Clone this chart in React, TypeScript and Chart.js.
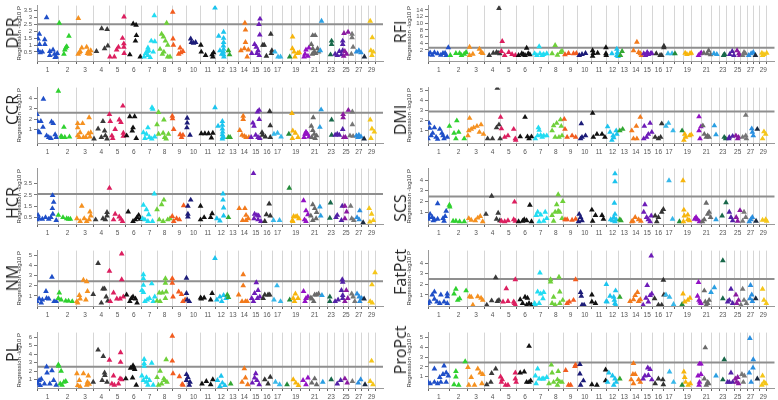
import React, { useEffect, useRef } from "react";
import { Chart, registerables } from "chart.js";
Chart.register(...registerables);

const CHR_LEN = [158,137,121,120,121,119,112,113,105,104,107,91,84,84,85,81,75,66,64,72,71,61,52,62,43,51,45,46,51];
const CHR_COLORS = ["#1f4fc8","#2fd12f","#f59120","#3a3a3a","#dc1f5f","#111111","#22dcf2","#6fd03a","#f25c1f","#1c1c78","#111111","#1cc4ee","#33a833","#f27a1c","#6d1cb8","#333333","#38b8ea","#238a3a","#f7b50c","#9312c4","#6a6a6a","#2a9fe2","#18684a","#5221a6","#8a1aa0","#777777","#2a8fe0","#1b2a40","#f5c61a"];
const X_LABELS = ["1","2","3","4","5","6","7","8","9","10","11","12","13","14","15","16","17","","19","","21","","23","","25","","27","","29"];
const X_MAX = 2560;

// [chromosome, relative position in chromosome, -log10 P]
const DPR = [[1,.45,3.0],[1,.11,1.8],[1,.05,1.45],[1,.36,1.4],[1,.12,1.05],[1,.37,1.05],[1,.05,.6],[1,.25,.5],[1,.15,.45],[1,.6,.55],[1,.75,.65],[1,.82,.35],[1,.6,.25],[1,.9,.15],[1,.95,.4],[1,.85,.1],
[2,.05,2.6],[2,.57,1.65],[2,.45,.9],[2,.4,.8],[2,.35,.65],[2,.3,.35],
[3,.09,2.95],[3,.3,.8],[3,.15,.45],[3,.08,.35],[3,.2,.55],[3,.6,.85],[3,.7,.55],[3,.65,.4],[3,.8,.4],[3,.85,.6],[3,.75,.35],
[4,.2,.55],[4,.52,2.2],[4,.86,2.15],[4,.9,.95],[4,.7,.75],
[5,.89,3.05],[5,.03,.15],[5,.3,.15],[5,.44,.65],[5,.8,1.5],[5,.88,1.1],[5,.88,.85],[5,.9,.4],[5,.55,.85],
[6,.46,2.55],[6,.64,2.45],[6,.66,1.7],[6,.6,1.3],[6,.25,.3],[6,.9,.15],
[7,.82,3.15],[7,.62,1.3],[7,.4,.8],[7,.35,.55],[7,.25,.4],[7,.4,.25],[7,.55,.1],[7,.15,.15],[7,.75,.5],[7,.85,1.25],[7,.45,.6],
[8,.63,2.6],[8,.3,1.8],[8,.42,1.6],[8,.55,1.3],[8,.7,1.0],[8,.2,.7],[8,.45,.5],[8,.85,.15],[8,.7,.15],[8,.35,.35],
[9,.03,3.4],[9,.05,1.45],[9,.08,1.0],[9,.55,.8],[9,.75,.55],[9,.6,.45],[9,.45,.35],
[10,.3,1.45],[10,.35,1.2],[10,.5,1.15],[10,.65,1.2],
[11,.02,1.0],[11,.05,.5],[11,.35,.25],[11,.8,.3],[11,.85,.15],[11,.9,.45],
[12,0,3.7],[12,.3,1.65],[12,.7,1.95],[12,.7,1.5],[12,.7,1.2],[12,.68,.95],[12,.7,.7],[12,.68,.5],[12,.7,.3],[12,.72,.15],[12,.4,.6],[12,.55,.35],
[13,.1,.6],[13,.2,.3],
[14,.55,2.6],[14,.6,2.1],[14,.6,1.2],[14,.2,.6],[14,.5,.75],[14,.85,.65],[14,.75,.15],
[15,.87,2.9],[15,.78,2.5],[15,.85,1.75],[15,.4,1.05],[15,.55,.85],[15,.15,.4],[15,.6,.4],[15,.8,.25],[15,.7,.6],
[16,.85,1.8],[16,.12,1.0],[16,.25,1.0],[16,.45,.2],[16,.95,.6],[16,.9,.4],
[17,.25,.5],[17,.55,.15],[17,.8,.15],[18,.8,.15],
[19,.12,1.6],[19,.1,.75],[19,.3,.5],[19,.4,.15],[19,.7,.4],[19,.9,.45],
[20,.6,.65],[20,.5,.35],[20,.8,.2],[20,.4,.15],[20,.9,.8],
[21,.3,1.7],[21,.55,1.7],[21,.15,1.05],[21,.3,.75],[21,.45,.5],[21,.25,.35],[21,.6,.4],[21,.8,.75],[21,.9,.5],
[22,.25,2.75],[22,.1,.6],[23,.55,1.3],[23,.55,1.05],[23,.4,.3],
[24,.05,.35],[24,.3,.25],[24,.55,.55],[24,.8,.3],[24,.95,1.3],[24,.95,1.05],[24,.95,.6],
[25,.15,1.85],[25,.85,1.95],[25,.3,.55],[25,.1,.2],[25,.6,.35],
[26,.45,1.8],[26,.45,1.55],[26,.6,.85],[26,.35,.35],
[27,.1,.5],[27,.5,.6],[27,.85,.45],[28,.4,.15],
[29,.3,2.75],[29,.6,1.55],[29,.4,.6],[29,.75,.5],[29,.55,.25]];

const CCR = [[1,0,2.45],[1,.02,1.8],[1,.18,1.8],[1,.28,1.25],[1,.05,.85],[1,.12,.75],[1,.3,3.9],[1,.45,.45],[1,.55,.3],[1,.68,1.75],[1,.76,1.6],[1,.85,.55],[1,.9,.3],[1,.65,.2],
[2,0,4.65],[2,.3,1.25],[2,.15,.4],[2,.2,.3],[2,.35,.3],[2,.6,.35],
[3,.05,1.6],[3,.35,1.6],[3,.05,1.2],[3,.2,.75],[3,.05,.45],[3,.15,.3],[3,.4,.3],[3,.75,2.15],[3,.85,.75],[3,.7,.65],[3,.8,.35],[3,.55,.3],
[4,.05,.15],[4,.3,1.1],[4,.5,.3],[4,.6,1.8],[4,.7,.9],[4,.75,.45],[4,.85,.15],
[5,0,2.45],[5,.05,1.8],[5,.35,1.05],[5,.15,.45],[5,.6,1.95],[5,.7,1.7],[5,.82,3.25],[5,.85,.7],[5,.85,.4],[5,.2,.2],
[6,.05,.45],[6,.25,2.25],[6,.55,2.25],[6,.45,1.2],[6,.4,.9],[6,.65,.2],
[7,.67,3.1],[7,.72,2.95],[7,.4,1.2],[7,.1,.75],[7,.3,.6],[7,.5,.3],[7,.2,.2],[7,.65,.15],[7,.85,.35],
[8,.1,2.65],[8,0,1.5],[8,.45,1.95],[8,.1,.6],[8,.4,.7],[8,.6,.15],[8,.75,.6],[8,.5,.3],
[9,0,2.3],[9,.02,2.05],[9,.1,1.05],[9,.55,.55],[9,.75,.5],[9,.65,.3],
[10,.05,2.1],[10,.05,1.65],[10,.03,1.2],[10,.25,.5],
[11,.05,.65],[11,.3,.65],[11,.55,.65],[11,.75,.25],[11,.85,.7],
[12,0,3.1],[12,.25,1.35],[12,.6,1.8],[12,.6,1.45],[12,.6,1.1],[12,.62,.8],[12,.6,.55],[12,.62,.3],[12,.6,.15],[12,.7,.3],
[13,.1,.3],[13,.25,.3],
[14,.4,2.3],[14,.4,2.0],[14,.1,.95],[14,.3,.5],[14,.5,.4],[14,.65,.3],[14,.9,.3],
[15,.65,2.7],[15,.8,2.85],[15,.8,2.0],[15,.25,1.65],[15,.35,1.35],[15,.5,.5],[15,.1,.3],[15,.85,.2],[15,.7,.3],
[16,.75,2.75],[16,.8,1.4],[16,.1,.5],[16,.35,.35],[16,.8,.3],[16,.05,.75],
[17,.15,.6],[17,.5,.7],[17,.85,.35],[18,.7,.6],
[19,.05,2.55],[19,.15,.9],[19,.45,.7],[19,.75,.3],[19,.1,.2],
[20,.6,.8],[20,.5,.6],[20,.4,.3],[20,.75,.6],[20,.9,.35],
[21,.35,2.15],[21,.15,1.35],[21,.3,.95],[21,.45,.6],[21,.2,.3],[21,.7,.45],[21,.55,.2],
[22,.2,2.9],[22,.05,1.25],[23,.55,1.95],[23,.55,.5],
[24,.05,.5],[24,.3,.6],[24,.55,.5],[24,.95,1.05],
[25,0,2.45],[25,0,2.15],[25,.9,2.85],[25,.1,.3],[25,.4,.3],
[26,.5,2.7],[26,.5,1.5],[26,.15,.45],[26,.6,.4],
[27,.1,.45],[27,.5,.5],[27,.85,.35],[27,.35,.3],[28,.35,.15],
[29,.3,1.95],[29,.55,1.1],[29,.9,.8],[29,.4,.2]];

const HCR = [[1,.73,2.45],[1,.78,1.85],[1,.72,1.3],[1,.74,.8],[1,.05,.7],[1,.1,.4],[1,.25,.35],[1,.4,.5],[1,.55,.35],[1,.65,.5],[1,.9,.25],[1,0,.3],
[2,0,.7],[2,.25,.5],[2,.45,.4],[2,.55,.35],[2,.65,.35],
[3,.3,1.5],[3,0,.4],[3,.2,.15],[3,.45,.4],[3,.6,.15],[3,.8,1.0],[3,.85,.65],[3,.75,.3],
[4,.15,.3],[4,.6,.4],[4,.85,.95],[4,.85,.65],[4,.75,.3],
[5,0,3.1],[5,.35,.8],[5,.25,.3],[5,.6,.55],[5,.7,.35],[5,.8,.15],
[6,.15,1.0],[6,.45,.15],[6,.6,.3],[6,.7,.5],[6,.8,.7],[6,.9,.35],
[7,.82,2.6],[7,.1,1.6],[7,.3,1.2],[7,.45,.75],[7,.2,.3],[7,.4,.15],[7,.7,.15],[7,.05,.4],
[8,.45,2.05],[8,.3,1.65],[8,0,1.2],[8,.15,.3],[8,.4,.15],[8,.7,.3],[8,.85,.4],
[9,0,.6],[9,.8,1.55],[9,.1,.15],[9,.5,.3],[9,.3,.4],
[10,.1,1.5],[10,.3,2.05],[10,.1,.8],[10,.1,.55],
[11,0,1.5],[11,0,.3],[11,.25,.5],[11,.7,.5],[11,.8,.85],
[12,.65,2.6],[12,.65,2.05],[12,.7,1.35],[12,.15,.4],[12,.4,.2],[12,.7,.65],
[13,.1,.5],
[14,.05,1.3],[14,.55,1.3],[14,.65,.7],[14,.35,.25],[14,.65,.25],[14,.85,.4],
[15,.3,4.4],[15,.4,.8],[15,.6,.7],[15,.75,.65],[15,.35,.4],[15,.7,.3],[15,.95,.15],
[16,.7,1.7],[16,.45,.75],[16,.8,.65],[16,.3,.15],
[17,.1,.25],[17,.7,.25],[18,.75,3.1],
[19,.1,.25],[19,.25,.6],[19,.5,.55],[19,.65,.6],[19,.85,.4],[19,.15,.15],
[20,.35,2.0],[20,.6,1.1],[20,.8,.75],[20,.45,.3],[20,.6,.15],
[21,.3,1.65],[21,.5,1.3],[21,.1,.65],[21,.3,.25],[21,.65,.4],[21,.7,.95],
[22,.05,1.45],[22,.15,.65],[23,.4,1.8],[23,.3,.45],
[24,.15,.5],[24,.3,.7],[24,.8,.25],[24,.9,1.5],
[25,.3,1.5],[25,.6,1.0],[25,.3,.4],
[26,.25,1.5],[26,.4,.4],[26,.7,.25],
[27,.65,1.1],[27,.2,.5],[27,.55,.3],[28,.2,.05],
[29,.15,1.3],[29,.5,.8],[29,.75,.25],[29,.25,.1]];

const NM = [[1,.7,2.85],[1,.42,1.45],[1,0,.45],[1,.1,.7],[1,.25,.6],[1,.45,.75],[1,.55,.7],[1,.8,.45],[1,.9,.45],[1,.2,.3],
[2,.05,1.3],[2,0,.75],[2,.15,.6],[2,.4,.5],[2,.55,.5],[2,.75,.45],
[3,.4,2.55],[3,.6,2.4],[3,.65,1.45],[3,.15,1.05],[3,.55,.6],[3,0,.45],[3,.05,.3],[3,.2,.7],
[4,.3,4.2],[4,0,1.15],[4,.6,1.7],[4,.7,1.7],[4,.5,.3],[4,.8,.9],[4,.9,.5],
[5,0,3.45],[5,.75,5.15],[5,.75,2.6],[5,.25,1.3],[5,.45,.7],[5,.05,.45],[5,.65,.7],[5,.85,.9],
[6,.05,1.1],[6,.35,.75],[6,.45,.9],[6,.6,.7],[6,.7,.3],[6,.25,.45],
[7,.1,3.1],[7,.1,2.7],[7,.1,2.05],[7,.65,2.2],[7,0,1.55],[7,.1,1.35],[7,.35,.6],[7,.5,.75],[7,.2,.45],[7,.75,.45],[7,.85,.9],
[8,.55,2.7],[8,.55,2.25],[8,.15,1.3],[8,.35,1.3],[8,.6,1.4],[8,.55,.75],[8,0,.5],[8,.2,.45],
[9,0,2.7],[9,0,2.25],[9,.05,.9],[9,.45,1.4],[9,.65,1.15],[9,.75,.45],[9,.9,.6],
[10,0,2.75],[10,0,1.25],[10,.05,.6],[10,.2,.45],
[11,0,.8],[11,.05,.7],[11,.25,.8],[11,.8,1.25],[11,.7,.6],
[12,0,4.7],[12,.15,.6],[12,.4,.9],[12,.7,1.05],[12,.9,.75],[12,.55,.45],
[13,0,1.1],[13,.1,.85],
[14,.4,3.1],[14,.4,2.0],[14,0,1.1],[14,.3,.45],[14,.6,.45],[14,.75,.45],
[15,.55,2.3],[15,.7,1.55],[15,.4,1.25],[15,.15,.75],[15,.3,.45],[15,.65,.75],[15,.85,.9],
[16,.3,1.1],[16,.6,1.1],[16,.75,1.1],[16,.15,.75],
[17,.45,2.0],[17,.15,.6],[17,.8,.45],[18,.8,.6],
[19,.45,1.2],[19,.2,.75],[19,.35,.45],[19,.75,.75],
[20,.35,1.45],[20,.6,.75],[20,.8,.9],[20,.5,.45],
[21,.5,1.1],[21,.7,1.1],[21,.9,1.2],[21,.2,.7],[21,.4,.45],[21,.1,.8],
[22,.3,1.05],[23,.3,.9],[23,.3,.45],
[24,.05,.45],[24,.4,.6],[24,.9,2.6],[24,.95,2.35],[24,.8,1.55],[24,.95,1.05],[24,.95,.75],
[25,.55,1.55],[25,.8,.75],[25,.3,.45],
[26,.4,1.2],[26,.6,.9],[26,.85,.45],
[27,.2,1.2],[27,.55,.9],[27,.95,.75],[27,.65,.45],[28,.35,.7],
[29,1,3.3],[29,.55,2.1],[29,.3,.45],[29,.6,.3]];

const PL = [[1,.45,2.5],[1,.7,2.05],[1,.47,1.8],[1,.78,.9],[1,0,.7],[1,.1,.9],[1,.2,1.05],[1,.05,.5],[1,.35,.5],[1,.6,.5],[1,.9,.35],[1,.15,.3],
[2,0,2.75],[2,.02,2.6],[2,.15,2.0],[2,.1,.5],[2,.3,.7],[2,.4,.8],[2,.2,.35],
[3,0,1.7],[3,.15,.9],[3,.4,1.7],[3,.7,1.45],[3,.65,.7],[3,.05,.3],[3,.2,.15],[3,.6,.35],[3,.75,.45],
[4,0,.7],[4,.3,4.5],[4,.55,.9],[4,.62,3.75],[4,.7,1.8],[4,.72,1.5],[4,.85,.7],
[5,0,3.3],[5,.25,1.45],[5,.15,.5],[5,.68,4.2],[5,.68,3.05],[5,.65,1.1],[5,.75,1.0],[5,.55,.5],[5,.3,.35],
[6,0,1.1],[6,.3,2.35],[6,.45,2.65],[6,.5,2.4],[6,.55,2.2],[6,.42,1.2],[6,.65,.35],
[7,.15,3.4],[7,.15,2.9],[7,.15,2.6],[7,.65,2.95],[7,0,1.45],[7,.1,.9],[7,.3,.7],[7,.5,.9],[7,.4,.35],[7,.75,.35],[7,.3,1.25],
[8,.6,3.35],[8,.2,2.0],[8,0,1.25],[8,.45,1.1],[8,.5,.9],[8,.65,.7],[8,.3,.5],[8,.1,.35],
[9,0,6.15],[9,0,3.2],[9,.05,1.7],[9,.5,1.35],[9,.7,.45],[9,.75,.35],
[10,0,1.6],[10,.1,1.25],[10,0,.9],[10,.2,.35],[10,.25,.7],
[11,.1,.5],[11,.4,.8],[11,.7,.4],[11,.85,1.0],
[12,.2,.9],[12,.5,1.4],[12,.6,.6],[12,.8,.3],[12,.4,.2],
[13,.3,.5],
[14,.3,.7],[14,.5,2.3],[14,.6,1.2],[14,.8,.4],
[15,.2,.6],[15,.4,1.2],[15,.6,.9],[15,.8,.4],[15,.5,1.7],
[16,.3,1.0],[16,.6,.5],[16,.8,1.3],
[17,.3,.7],[17,.7,.4],[18,.5,.4],
[19,.2,1.0],[19,.5,.6],[19,.8,.3],
[20,.3,.9],[20,.6,.4],[20,.8,1.2],
[21,.2,.6],[21,.5,1.1],[21,.7,.4],
[22,.4,.7],[23,.5,1.0],
[24,.3,.5],[24,.7,.9],
[25,.3,1.1],[25,.7,.6],
[26,.5,.8],
[27,.4,.6],[27,.8,1.0],[28,.5,.4],
[29,.5,3.2],[29,.3,.8],[29,.7,.4]];

const RFI = [[1,.95,2.7],[1,.1,1.15],[1,.3,1.2],[1,.45,.9],[1,0,.6],[1,.7,1.0],[1,.85,.4],[1,.8,1.1],[1,.6,.5],[1,.2,.5],
[2,.05,.4],[2,.35,1.0],[2,.55,1.0],[2,.9,1.3],[2,.65,.4],[2,.8,.8],
[3,.1,2.9],[3,.7,2.3],[3,.8,1.3],[3,.9,1.0],[3,.3,.8],[3,.1,.4],
[4,.9,14.5],[4,.3,.4],[4,.55,1.1],[4,.75,1.3],[4,.85,1.1],[4,.95,.9],
[5,.1,4.6],[5,.05,1.6],[5,.5,1.3],[5,.25,.4],[5,.7,.7],[5,.9,.4],
[6,.6,2.55],[6,.3,.9],[6,.7,.9],[6,.8,.6],[6,.4,.6],[6,.5,.4],[6,.1,.4],
[7,.4,3.0],[7,.1,.9],[7,.25,.4],[7,.45,.9],[7,.7,.7],[7,.9,.9],[7,.6,.4],
[8,.45,3.4],[8,.25,.9],[8,.8,1.3],[8,.9,1.7],[8,.6,.5],
[9,.1,.6],[9,.35,1.0],[9,.7,.9],[9,.9,1.0],
[10,.3,.7],[10,.55,1.0],[10,.1,.4],
[11,.05,1.8],[11,.05,.2],[11,.4,1.05],[11,.1,1.0],[11,.97,2.75],[11,.97,.9],[11,.99,.4],
[12,.45,.9],[12,.85,2.3],[12,.9,1.3],[12,.85,.4],[12,.95,.1],
[13,.3,1.6],[13,.15,.4],
[14,.6,4.4],[14,.3,1.8],[14,.75,1.3],[14,.9,.9],[14,1,.4],
[15,.2,.9],[15,.5,1.3],[15,.6,.7],[15,.8,.9],[15,.9,1.0],[15,.35,.4],
[16,.3,.9],[16,.65,.4],[16,.8,.4],[16,1,3.2],[16,1,2.75],
[17,.4,.9],[17,.8,.9],[18,.1,.9],
[19,.25,1.05],[19,.45,.7],[19,.8,.9],[19,.95,1.05],
[20,.9,.9],[20,.7,.4],[20,1,1.05],
[21,.25,1.05],[21,.6,.9],[21,.75,1.8],[21,.95,.6],
[22,.35,.9],[22,.7,.7],[23,.75,.7],[23,.6,.4],
[24,.7,1.6],[24,.4,.7],[24,.9,.4],
[25,.4,1.8],[25,.7,.9],[25,.85,.4],
[26,.5,1.3],[26,.7,.9],[26,.3,.4],
[27,.6,.9],[27,.95,1.3],[27,.2,.4],[28,.3,.4],
[29,.3,1.05],[29,.6,.7],[29,1,1.05],[29,.4,.4]];

const DMI = [[1,.05,1.7],[1,.08,1.2],[1,.3,1.25],[1,.55,1.1],[1,.15,.45],[1,0,.15],[1,.38,.3],[1,.45,.1],[1,.7,.45],[1,.75,.15],[1,.9,.3],[1,.22,.7],[1,.65,.7],
[2,0,1.4],[2,.4,1.95],[2,.25,.7],[2,.5,.8],[2,.35,.15],[2,.8,.15],
[3,.1,2.2],[3,0,.45],[3,.05,.95],[3,.2,1.1],[3,.35,1.25],[3,.55,1.4],[3,.8,1.55],[3,.95,.6],[3,.7,.8],
[4,.2,.15],[4,.5,.15],[4,.75,1.25],[4,.9,1.55],[4,.8,5.2],[4,.97,.15],
[5,0,2.3],[5,.05,1.15],[5,.25,.3],[5,.45,.45],[5,.8,1.1],[5,.9,.15],[5,.92,0],
[6,.2,.35],[6,.5,2.3],[6,.65,.35],[6,.75,.15],[6,.9,.35],
[7,.35,1.25],[7,.4,1.0],[7,.3,.45],[7,.5,.5],[7,.7,.45],[7,.9,.45],[7,.15,.15],[7,.6,.3],
[8,.35,1.45],[8,.55,1.7],[8,.25,.95],[8,.8,2.05],[8,.85,1.4],[8,.45,.3],[8,.7,.3],[8,.9,.45],
[9,.05,2.1],[9,.1,1.1],[9,.25,.3],[9,.6,.45],[9,.85,.3],
[10,.25,1.65],[10,.3,.3],[10,.55,.45],[10,.2,.15],
[11,.05,2.7],[11,.1,.3],[11,.35,.6],[11,.7,.6],[11,.9,.3],
[12,.1,1.35],[12,.3,.8],[12,.55,.45],[12,.8,.95],[12,.85,.6],[12,.45,0],[12,.6,.25],
[13,.1,.95],[13,.35,1.1],
[14,.15,.95],[14,.55,1.4],[14,.9,2.3],[14,.6,.15],[14,.3,.15],
[15,.25,1.4],[15,.75,1.7],[15,.45,.3],[15,.6,.6],[15,.9,.8],[15,.2,.15],
[16,.2,.3],[16,.5,.15],[16,.8,1.65],[16,.7,.3],
[17,.2,1.4],[17,.45,1.7],[17,.9,.95],[18,.9,.95],
[19,.2,.6],[19,.3,.3],[19,.75,.45],[19,.95,.55],[19,.1,0],
[20,.75,2.35],[20,.75,.95],[20,.95,1.35],[20,.85,.15],
[21,.15,1.45],[21,.3,.6],[21,.5,.3],[21,.65,.45],[21,.8,.3],
[22,.4,1.45],[22,.6,.55],[23,.7,.3],[23,.9,.15],
[24,.35,.3],[24,.75,.4],[24,.3,.15],
[25,.2,.45],[25,.65,.3],[25,.5,.15],
[26,.75,2.5],[26,.3,.3],[26,.75,.45],[26,.85,.15],
[27,.7,1.15],[27,.8,.8],[27,.95,.45],[28,.6,1.1],
[29,.6,.85],[29,.85,.6],[29,.4,.15]];

const SCS = [[1,.45,1.8],[1,.1,.8],[1,.05,.5],[1,.2,.5],[1,.3,.3],[1,.45,.35],[1,.7,.4],[1,.75,.15],[1,0,.35],[1,.25,.2],[1,.85,1.1],[1,.8,.6],
[2,0,1.65],[2,.02,1.5],[2,.2,.15],[2,.35,.15],[2,.55,.1],[2,.8,.1],
[3,.05,.4],[3,.2,.25],[3,.45,.2],[3,.6,.45],[3,.75,.6],[3,.9,.1],
[4,.1,.8],[4,.45,2.5],[4,.75,.35],[4,.85,.9],[4,.95,.2],
[5,.05,.15],[5,.25,.1],[5,.45,.2],[5,.85,1.95],[5,.8,.3],[5,.9,.15],
[6,.1,.1],[6,.35,.15],[6,.45,.3],[6,.8,1.65],[6,.9,.1],[6,.6,.2],
[7,.2,.7],[7,.3,1.0],[7,.5,.75],[7,.8,1.0],[7,.7,.15],[7,.4,.1],[7,.9,.4],
[8,.65,2.65],[8,.95,2.0],[8,.55,1.7],[8,.45,1.0],[8,.65,1.1],[8,.75,1.0],[8,.25,.7],[8,.35,.15],[8,.9,.4],
[9,.1,.3],[9,.25,.3],[9,.6,.25],[9,.85,.35],
[10,.1,.8],[10,.2,.5],[10,.3,.2],[10,.05,.1],
[11,0,1.2],[11,.05,.15],[11,.25,.7],[11,.7,.7],[11,.8,.35],
[12,.7,4.6],[12,.7,3.85],[12,.65,1.85],[12,.7,.8],[12,.6,.5],[12,.8,.3],[12,.35,.3],[12,.7,.1],[12,.5,.2],
[13,.1,.3],[13,.2,.2],
[14,.15,.1],[14,.45,.5],[14,.75,.3],[14,.95,.15],[14,.25,.15],
[15,.2,1.0],[15,.3,1.7],[15,.45,.5],[15,.6,.3],[15,.85,.65],[15,.75,.1],
[16,.2,.65],[16,.5,.5],[16,.8,1.0],[16,.95,1.25],[16,.35,.1],
[17,.5,3.95],[17,.85,.35],[18,.6,.1],
[19,0,3.95],[19,.1,1.2],[19,.15,.65],[19,.55,.75],[19,.55,.3],[19,.75,.2],[19,.05,.1],
[20,.45,.5],[20,.6,.3],[20,.8,.1],[20,.3,.35],
[21,.5,1.85],[21,.65,.8],[21,.8,1.0],[21,.3,.3],[21,.1,.1],[21,.95,.5],
[22,.6,.3],[23,.95,1.9],[23,.4,.65],
[24,.35,1.0],[24,.55,.5],[24,.75,.2],
[25,.9,1.15],[25,.25,.5],[25,.5,.15],
[26,.5,1.0],[26,.75,.5],[26,.3,.15],
[27,.55,.3],[27,.8,.5],[27,.3,.1],[28,.4,.15],
[29,.4,.25],[29,.85,.3],[29,1,.15]];

const FATPCT = [[1,.3,1.3],[1,.2,1.0],[1,.6,1.0],[1,.9,1.1],[1,.9,.85],[1,0,.2],[1,.08,.35],[1,.42,.35],[1,.55,.2],[1,.75,.35],[1,.9,.2],[1,.3,.6],
[2,.25,1.1],[2,.35,1.55],[2,.9,1.4],[2,.45,.5],[2,.55,.65],
[3,.1,.85],[3,.2,.8],[3,.3,.05],[3,.6,.85],[3,.8,.7],[3,.9,.5],
[4,.15,.05],[4,.45,.45],[4,.7,2.65],[4,.8,.4],[4,.9,.5],
[5,.15,.35],[5,.35,1.6],[5,.45,.4],[5,.9,2.45],[5,.8,.35],[5,.9,.05],[5,.85,.2],
[6,.2,.55],[6,.35,.2],[6,.5,.8],[6,.65,.7],[6,.75,.2],[6,.6,.05],[6,.9,.05],
[7,.45,3.1],[7,.3,1.3],[7,.5,1.1],[7,.7,1.25],[7,.1,.2],[7,.15,.05],[7,.4,.2],[7,.65,.65],
[8,.15,2.45],[8,.15,2.25],[8,.7,2.7],[8,.35,.8],[8,.75,1.3],[8,.25,.2],[8,.45,.05],[8,.75,.2],[8,.95,.5],
[9,.25,.2],[9,.4,.35],[9,.7,.5],[9,.85,2.45],
[10,.2,1.25],[10,.25,.9],[10,.3,.05],[10,.45,.05],
[11,0,1.0],[11,0,.35],[11,.25,.2],
[12,0,2.0],[12,0,.4],[12,.05,.35],[12,.3,.9],[12,.75,1.4],[12,.6,.8],[12,.65,.5],[12,.7,.2],[12,.75,.05],
[13,.1,.8],
[14,0,.4],[14,.3,.55],[14,.45,.95],[14,.65,1.25],[14,.75,.4],[14,.9,.55],
[15,.85,4.7],[15,.5,1.9],[15,.4,.7],[15,.75,.95],[15,.9,1.1],[15,.15,.05],[15,.6,.35],
[16,.15,.65],[16,.5,.05],[16,.8,.05],[16,.95,2.4],[16,1,1.0],
[17,.2,1.0],[17,.55,.8],[17,.95,.1],[18,.9,.1],
[19,0,1.1],[19,.2,.35],[19,.55,.5],[19,.8,.7],
[20,.7,2.2],[20,.6,.9],[20,.75,.5],[20,.85,.35],[20,.95,.2],
[21,.3,1.4],[21,.4,.35],[21,.5,.05],[21,.65,.2],[21,.8,.5],
[22,0,1.25],[22,.4,1.7],[23,.5,4.25],[23,.5,.65],
[24,.15,.35],[24,.55,1.55],[24,.75,.2],[24,.35,.5],
[25,.2,1.0],[25,.35,.2],[25,.65,.5],
[26,.3,1.55],[26,.05,.05],[26,.5,.5],[26,.85,.2],
[27,.5,1.9],[27,.7,1.0],[27,.4,.65],[27,.8,.4],[28,.35,.65],
[29,.4,1.55],[29,.6,.5],[29,.95,.2]];

const PROPCT = [[1,.3,1.8],[1,.75,2.1],[1,.7,1.25],[1,.85,1.4],[1,.95,1.1],[1,0,.45],[1,.1,.3],[1,.3,.45],[1,.45,.3],[1,.6,.45],[1,.85,.45],[1,.55,.95],
[2,.35,1.55],[2,.35,1.0],[2,.85,2.55],[2,.25,.2],[2,.5,.15],
[3,0,1.95],[3,.6,1.8],[3,.2,.95],[3,.75,1.4],[3,.9,1.25],[3,.05,.15],[3,.4,.15],[3,.85,.3],
[4,.15,.2],[4,.45,1.35],[4,.7,1.8],[4,.4,.45],
[5,0,1.0],[5,.1,.7],[5,.3,.15],[5,.45,.15],[5,.05,.45],[5,.9,1.4],[5,.9,.8],[5,.95,.45],
[6,.2,1.4],[6,.45,1.5],[6,.75,4.1],[6,.6,.45],[6,.75,.45],[6,.85,.6],
[7,.3,1.8],[7,.15,1.1],[7,.4,.8],[7,.6,.8],[7,.7,.8],[7,.9,.95],[7,.2,.3],
[8,.2,2.2],[8,.25,1.4],[8,.05,.3],[8,.35,.45],[8,.6,.7],[8,.65,1.55],[8,.75,.5],[8,.9,.45],[8,.6,.15],
[9,.15,1.65],[9,.35,.15],[9,.5,.15],[9,.85,2.2],[9,.8,2.05],
[10,.15,2.25],[10,.15,1.3],[10,.2,.15],[10,.4,.6],
[11,0,.2],[11,.35,.15],[11,.95,1.7],[11,.95,.6],
[12,.2,1.4],[12,.5,1.1],[12,.7,.8],[12,.8,.45],[12,.6,.15],[12,.1,.45],
[13,.1,.8],
[14,.3,2.35],[14,.25,1.25],[14,.45,1.25],[14,.1,.7],[14,.3,.3],[14,.75,.7],[14,.9,.45],
[15,.55,1.9],[15,.75,1.75],[15,.3,1.1],[15,.6,1.15],[15,.9,.7],[15,.15,.8],
[16,.2,.3],[16,.5,.8],[16,.9,.7],[16,.95,.2],
[17,.55,1.5],[17,.95,.45],[18,.9,.15],
[19,.1,1.5],[19,.2,.95],[19,.3,.45],[19,.85,.3],[19,.6,.15],
[20,.8,2.3],[20,.95,2.3],[20,.65,1.1],[20,.95,1.25],[20,.8,.45],[20,.75,.15],
[21,.4,3.95],[21,.3,.8],[21,.65,.45],[21,.5,.15],[21,.75,.3],
[22,.6,1.1],[23,.7,2.75],[23,.5,.7],
[24,.55,1.4],[24,.15,.45],[24,.35,.45],[24,.75,.45],
[25,.1,.8],[25,.3,.45],[25,.65,.3],[25,.5,.95],
[26,.2,1.25],[26,.55,1.1],[26,.4,.45],
[27,.4,4.9],[27,.3,1.4],[27,.9,1.9],[27,.95,2.75],[27,.6,.45],[28,.6,.8],
[29,.4,1.1],[29,.6,.45],[29,.85,.3],[29,.3,.15]];

const DPR_TICKS = [0.5,1,1.5,2,2.5,3,3.5];
const CCR_TICKS = [1,2,3,4];
const HCR_TICKS = [0.5,1.5,2.5,3.5];
const NM_TICKS = [1,2,3,4,5];
const PL_TICKS = [1,2,3,4,5,6];
const RFI_TICKS = [2,4,6,8,10,12,14];
const DMI_TICKS = [1,2,3,4,5];
const SCS_TICKS = [1,2,3,4];
const FATPCT_TICKS = [1,2,3,4];
const PROPCT_TICKS = [1,2,3,4,5];

const TRAITS = ["DPR","CCR","HCR","NM","PL","RFI","DMI","SCS","FatPct","ProPct"];
const POINTS = [DPR,CCR,HCR,NM,PL,RFI,DMI,SCS,FATPCT,PROPCT];
const TICKS = [DPR_TICKS,CCR_TICKS,HCR_TICKS,NM_TICKS,PL_TICKS,RFI_TICKS,DMI_TICKS,SCS_TICKS,FATPCT_TICKS,PROPCT_TICKS];
const Y_MIN = [-0.16,-0.24,-0.08,0,0,-1.3,-0.28,-0.12,-0.05,-0.14];
const Y_MAX = [3.87,4.98,4.83,5.46,6.55,15.3,5.26,5.08,5.2,5.48];
const THRESHOLDS = [2.52,2.6,2.58,2.45,2.5,2.7,2.88,2.47,2.5,2.45];

const ROW_TOP = [0,82,163,245,327];
const TITLE_Y = [33,110,203,278,353,32,120,208,272,350];
const CANVAS_H = 74;

const CHR_START = CHR_LEN.reduce((acc, l, i) => { acc.push(i === 0 ? 0 : acc[i-1] + CHR_LEN[i-1]); return acc; }, [] as number[]);
const BOUNDS = CHR_START.concat([CHR_START[28] + CHR_LEN[28]]);
const CENTERS = CHR_START.map((s, i) => s + CHR_LEN[i] / 2);

function Panel({ idx }: { idx: number }) {
  const ref = useRef<HTMLCanvasElement | null>(null);
  const col = idx < 5 ? 0 : 1;
  const row = idx % 5;
  const left = col === 0 ? 0 : 390;
  const width = col === 0 ? 390 : 388;
  const yAxisW = col === 0 ? 37 : 38;
  const padR = col === 0 ? 7 : 1;

  useEffect(() => {
    const raw = POINTS[idx];
    const pts = raw.map(([c, f, y]) => ({ x: CHR_START[c - 1] + f * CHR_LEN[c - 1], y }));
    const colors = raw.map(([c]) => CHR_COLORS[c - 1]);
    const boundSet = new Set(BOUNDS);
    const labelMap = new Map<number, string>();
    CENTERS.forEach((c, i) => { if (X_LABELS[i]) labelMap.set(c, X_LABELS[i]); });
    const th = THRESHOLDS[idx];
    const chart = new Chart(ref.current as HTMLCanvasElement, {
      type: "scatter",
      data: {
        datasets: [
          { type: "line", data: [{ x: 0, y: th }, { x: X_MAX, y: th }], borderColor: "#8f8f8f", borderWidth: 2, pointRadius: 0, order: 2 } as any,
          { data: pts, pointStyle: "triangle", pointRadius: 3.3, pointHoverRadius: 3.3, pointBackgroundColor: colors, pointBorderColor: colors, pointBorderWidth: 0, order: 1 } as any,
        ],
      },
      options: {
        animation: false,
        responsive: false,
        events: [],
        layout: { padding: { left: 0, right: padR, top: 2, bottom: 0 } },
        plugins: { legend: { display: false }, tooltip: { enabled: false } },
        scales: {
          x: {
            type: "linear",
            min: 0,
            max: X_MAX,
            afterBuildTicks: (s: any) => {
              const vals = [...BOUNDS, ...Array.from(labelMap.keys())].sort((a, b) => a - b);
              s.ticks = vals.map((v) => ({ value: v }));
            },
            afterFit: (s: any) => { s.height = CANVAS_H - 61; },
            ticks: {
              autoSkip: false,
              maxRotation: 0,
              padding: 2,
              font: { size: 6.5 },
              color: "#555",
              callback: (v: any) => labelMap.get(Number(v)) ?? "",
            },
            grid: {
              drawOnChartArea: true,
              tickLength: 3,
              lineWidth: 1,
              color: (ctx: any) => (ctx.tick && boundSet.has(ctx.tick.value) ? "#d6d6d6" : "rgba(0,0,0,0)"),
              tickColor: (ctx: any) => (ctx.tick && boundSet.has(ctx.tick.value) ? "#666" : "rgba(0,0,0,0)"),
            },
            border: { display: true, color: "#9a9a9a", width: 1 },
          },
          y: {
            type: "linear",
            min: Y_MIN[idx],
            max: Y_MAX[idx],
            afterBuildTicks: (s: any) => { s.ticks = TICKS[idx].map((v) => ({ value: v })); },
            afterFit: (s: any) => { s.width = yAxisW; },
            ticks: { autoSkip: false, padding: 2, font: { size: 6 }, color: "#555", callback: (v: any) => String(v) },
            grid: { drawOnChartArea: false, drawTicks: true, tickLength: 3, color: "#777" },
            border: { display: true, color: "#9a9a9a", width: 1 },
            title: { display: true, text: "Regression -log10 P", font: { size: 6 }, color: "#333", padding: { top: 16, bottom: 0 } },
          },
        },
      } as any,
    });
    return () => chart.destroy();
  }, [idx]);

  return (
    <>
      <canvas ref={ref} width={width} height={CANVAS_H} style={{ position: "absolute", left, top: ROW_TOP[row], width, height: CANVAS_H }} />
      <div style={{ position: "absolute", left: col === 0 ? 12 : 400, top: TITLE_Y[idx], transform: "translate(-50%,-50%) rotate(-90deg)", fontFamily: "'Open Sans', 'DejaVu Sans', sans-serif", fontSize: 16, color: "#222", whiteSpace: "nowrap", lineHeight: 1 }}>
        {TRAITS[idx]}
      </div>
    </>
  );
}

export default function App() {
  Chart.defaults.font.family = "'Liberation Sans', Arial, sans-serif";
  return (
    <div style={{ position: "fixed", left: 0, top: 0, width: 778, height: 400, background: "#fff", overflow: "hidden" }}>
      {TRAITS.map((_, i) => <Panel key={i} idx={i} />)}
    </div>
  );
}
